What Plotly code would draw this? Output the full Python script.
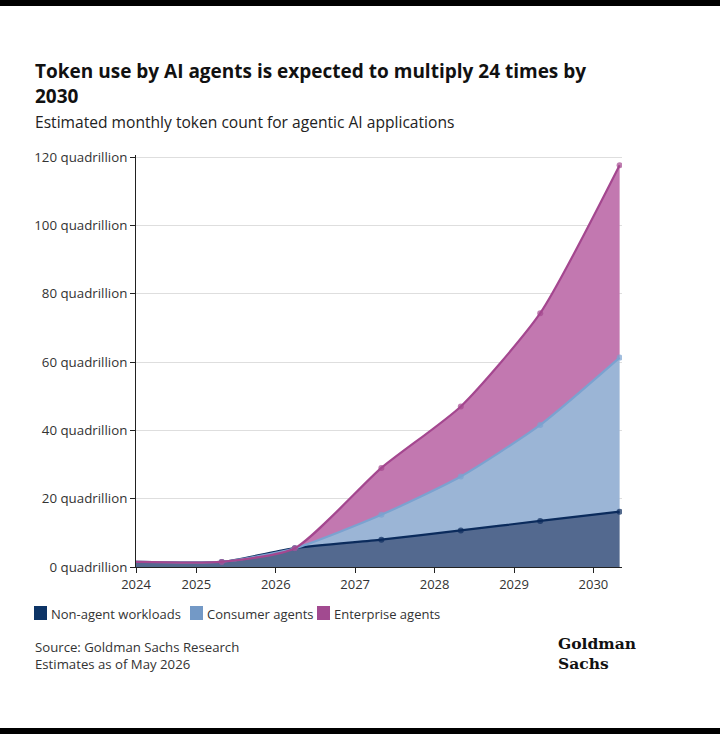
import plotly.graph_objects as go

# data (stacked totals converted to per-series values)
years = [2024.24, 2025.32, 2026.24, 2027.33, 2028.33, 2029.33, 2030.33]
non_agent = [1.5, 1.5, 5.5, 8.0, 10.7, 13.5, 16.2]
consumer = [0.0, 0.0, 0.0, 7.3, 15.8, 28.1, 45.1]
enterprise = [0.0, 0.0, 0.0, 13.7, 20.5, 32.7, 56.3]

tick_years = ["2024", "2025", "2026", "2027", "2028", "2029", "2030"]
y_ticks = [0, 20, 40, 60, 80, 100, 120]

series = [
    ("Non-agent workloads", non_agent, "#0b2b5c", "rgba(83,105,143,1)", "#0d3466"),
    ("Consumer agents", consumer, "#7ba2d0", "rgba(155,181,214,1)", "#7399c6"),
    ("Enterprise agents", enterprise, "#a4478f", "rgba(194,120,176,1)", "#a24a90"),
]

FONT = "'Open Sans', Lato, sans-serif"
LOGO = "'DejaVu Serif', serif"
W, H = 720, 734
L, R, T, B = 136, 98, 155, 167


def px(x):
    return (x - L) / (W - L - R)


def py(y):
    return (H - B - y) / (H - T - B)


fig = go.Figure()
for name, vals, line_c, fill_c, _ in series:
    fig.add_trace(go.Scatter(
        x=years, y=vals, name=name, stackgroup="one",
        mode="lines+markers",
        line=dict(color=line_c, width=2.2, shape="spline", smoothing=0.6),
        marker=dict(color=line_c, size=[0] + [6] * (len(years) - 1), line=dict(width=0)),
        fillcolor=fill_c, showlegend=False,
    ))

tickvals = [years[0]] + [int(t) for t in tick_years[1:]]

fig.update_xaxes(
    range=[years[0], 2030.36], tickvals=tickvals, ticktext=tick_years,
    showgrid=False, showline=True, linecolor="#222", linewidth=1,
    ticks="outside", ticklen=5, tickcolor="#222",
    tickfont=dict(family=FONT, size=13, color="#333"),
)
fig.update_yaxes(
    range=[0, 120.6], tickvals=y_ticks,
    ticktext=[f"{v} quadrillion" for v in y_ticks],
    showgrid=True, gridcolor="#dedede", gridwidth=1,
    showline=True, linecolor="#222", linewidth=1,
    ticks="outside", ticklen=5, tickcolor="#222", zeroline=False,
    tickfont=dict(family=FONT, size=13.3, color="#333"),
)

ann = [
    dict(x=px(33), y=py(56), text="<b>Token use by AI agents is expected to multiply 24 times by<br>2030</b>",
         font=dict(family=FONT, size=19, color="#111"), align="left"),
    dict(x=px(33), y=py(109), text="Estimated monthly token count for agentic AI applications",
         font=dict(family=FONT, size=15.6, color="#222"), align="left"),
    dict(x=px(33), y=py(636), text="Source: Goldman Sachs Research<br>Estimates as of May 2026",
         font=dict(family=FONT, size=13.2, color="#333"), align="left"),
    dict(x=px(556), y=py(632), text="<b>Goldman<br>Sachs</b>",
         font=dict(family=LOGO, size=15.5, color="#111"), align="left"),
]

shapes = []
lx = [34, 190, 317]
for (name, _, _, _, sq), x0 in zip(series, lx):
    shapes.append(dict(type="rect", xref="paper", yref="paper",
                       x0=px(x0), x1=px(x0 + 13), y0=py(620), y1=py(606),
                       fillcolor=sq, line=dict(width=0)))
    ann.append(dict(x=px(x0 + 15), y=py(603), text=name,
                    font=dict(family=FONT, size=13, color="#333"), align="left"))

for a in ann:
    a.update(xref="paper", yref="paper", xanchor="left", yanchor="top", showarrow=False)

# black bands at top and bottom of the image
shapes.append(dict(type="rect", xref="paper", yref="paper", x0=px(0), x1=px(W),
                   y0=py(6), y1=py(0), fillcolor="#000", line=dict(width=0), layer="above"))
shapes.append(dict(type="rect", xref="paper", yref="paper", x0=px(0), x1=px(W),
                   y0=py(H), y1=py(728), fillcolor="#000", line=dict(width=0), layer="above"))

fig.update_layout(
    width=W, height=H, margin=dict(l=L, r=R, t=T, b=B),
    plot_bgcolor="white", paper_bgcolor="white",
    annotations=ann, shapes=shapes, showlegend=False,
)

fig.write_html("out.html", config={"displayModeBar": False},
               post_script="document.body.style.margin='0';")
